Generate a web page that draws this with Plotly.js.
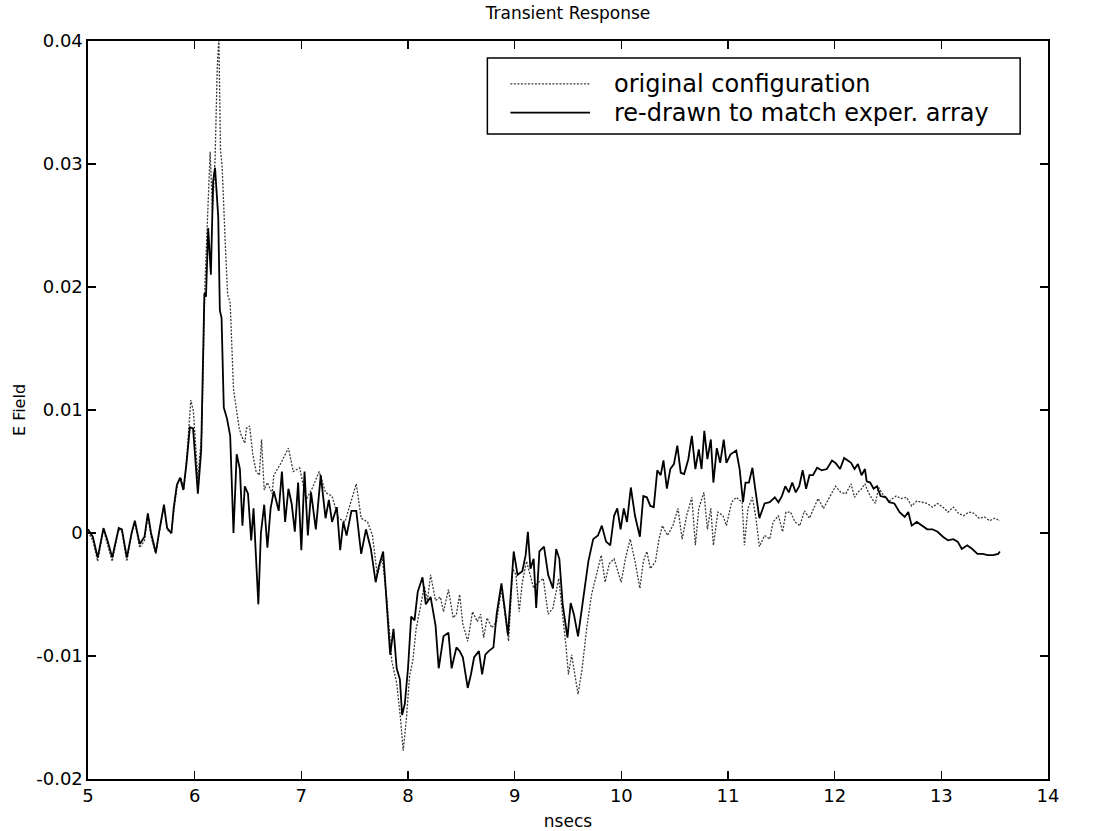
<!DOCTYPE html>
<html>
<head>
<meta charset="utf-8">
<script src="https://cdn.plot.ly/plotly-3.0.1.min.js"></script>
<style>html,body{margin:0;padding:0;background:#fff;}#chart{width:1095px;height:831px;}</style>
</head>
<body>
<div id="chart"></div>
<script>
// ---- data ----
const seriesNames = ["original configuration", "re-drawn to match exper. array"];

const xOrig = [5.000,5.045,5.091,5.145,5.182,5.227,5.288,5.318,5.364,5.409,5.439,5.485,5.530,5.561,5.591,5.636,5.667,5.712,5.742,5.782,5.812,5.842,5.873,5.900,5.930,5.964,5.988,6.030,6.067,6.097,6.121,6.145,6.167,6.191,6.212,6.227,6.242,6.258,6.288,6.309,6.333,6.364,6.394,6.418,6.439,6.470,6.485,6.515,6.545,6.576,6.606,6.627,6.652,6.682,6.727,
6.742,6.803,6.879,6.924,6.985,7.045,7.106,7.167,7.227,7.288,7.348,7.409,7.470,7.515,7.561,7.621,7.667,7.712,7.758,7.803,7.848,7.894,7.930,7.955,7.985,8.015,8.045,8.076,8.121,8.152,8.182,8.212,8.258,8.303,8.333,8.379,8.424,
8.454,8.484,8.514,8.560,8.605,8.650,8.680,8.710,8.741,8.786,8.831,8.876,8.906,8.943,8.982,9.012,9.042,9.072,9.112,9.148,9.178,9.223,9.268,9.314,9.359,9.413,9.450,9.480,9.504,9.534,9.564,9.594,9.630,9.676,9.721,9.766,9.812,9.848,9.887,9.932,9.962,9.998,10.038,10.083,10.128,10.174,
10.206,10.239,10.272,10.320,10.353,10.385,10.433,10.483,10.531,10.570,10.612,10.661,10.694,10.726,10.774,10.807,10.839,10.863,10.905,10.953,10.985,11.034,11.077,11.132,11.154,11.187,11.229,11.262,11.294,11.343,11.391,11.423,11.473,11.512,11.544,11.586,11.628,11.674,11.716,11.764,11.803,11.845,11.895,11.943,12.008,12.057,12.105,
12.154,12.186,12.218,12.252,12.284,12.316,12.349,12.381,12.413,12.447,12.479,12.511,12.543,12.576,12.625,12.674,12.722,12.770,12.820,12.868,12.917,12.965,13.015,13.063,13.112,13.160,13.209,13.258,13.306,13.355,13.404,13.453,13.501,13.549];

const yOrig = [0.0001,-0.0006,-0.0023,0.0003,-0.0009,-0.0023,0.0003,0.0001,-0.0023,-0.0001,0.0009,-0.0012,-0.0006,0.0015,-0.0003,-0.0017,0.0000,0.0022,0.0003,-0.0001,0.0023,0.0042,0.0044,0.0036,0.0067,0.0108,0.0099,0.0044,0.0082,0.0204,0.0257,0.0310,0.0262,0.0303,0.0379,0.0402,0.0312,0.0297,0.0233,0.0194,0.0187,0.0117,0.0099,0.0085,0.0079,0.0073,0.0085,0.0087,0.0064,0.0050,0.0047,0.0076,0.0035,0.0041,0.0032,
0.0047,0.0056,0.0069,0.0050,0.0053,0.0027,0.0037,0.0050,0.0033,0.0030,0.0012,0.0009,0.0027,0.0040,0.0012,0.0009,-0.0002,-0.0034,-0.0020,-0.0055,-0.0104,-0.0122,-0.0151,-0.0177,-0.0151,-0.0116,-0.0104,-0.0078,-0.0058,-0.0043,-0.0055,-0.0034,-0.0055,-0.0052,-0.0064,-0.0046,-0.0069,
-0.0066,-0.0050,-0.0074,-0.0088,-0.0064,-0.0072,-0.0066,-0.0085,-0.0069,-0.0077,-0.0072,-0.0045,-0.0064,-0.0088,-0.0029,-0.0034,-0.0064,-0.0040,-0.0023,-0.0034,-0.0045,-0.0040,-0.0037,-0.0066,-0.0061,-0.0037,-0.0064,-0.0091,-0.0115,-0.0099,-0.0115,-0.0131,-0.0112,-0.0077,-0.0050,-0.0033,-0.0018,-0.0040,-0.0025,-0.0021,-0.0029,-0.0040,-0.0021,-0.0005,-0.0023,-0.0045,
-0.0023,-0.0015,-0.0029,-0.0023,-0.0005,0.0006,-0.0002,0.0006,0.0020,-0.0005,0.0014,0.0029,-0.0010,0.0020,0.0033,0.0003,0.0020,-0.0010,0.0017,0.0014,0.0006,0.0025,0.0029,0.0025,-0.0010,0.0020,0.0029,0.0012,-0.0011,-0.0002,-0.0005,0.0009,0.0014,0.0001,0.0017,0.0017,0.0009,0.0006,0.0018,0.0012,0.0020,0.0028,0.0020,0.0028,0.0038,0.0033,0.0032,
0.0040,0.0029,0.0033,0.0036,0.0040,0.0033,0.0028,0.0024,0.0037,0.0032,0.0029,0.0026,0.0028,0.0030,0.0028,0.0029,0.0022,0.0026,0.0025,0.0024,0.0021,0.0024,0.0021,0.0017,0.0021,0.0016,0.0014,0.0017,0.0016,0.0012,0.0013,0.0010,0.0012,0.0010];

const xRedrawn = [5.000,5.045,5.091,5.145,5.182,5.227,5.288,5.318,5.364,5.409,5.439,5.485,5.530,5.561,5.591,5.636,5.667,5.712,5.742,5.782,5.803,5.833,5.864,5.894,5.924,5.955,5.985,6.030,6.061,6.091,6.106,6.127,6.152,6.173,6.191,6.206,6.221,6.236,6.252,6.273,6.303,6.333,6.364,6.394,6.424,6.448,6.470,6.500,6.530,6.552,6.576,6.597,6.621,6.652,6.682,6.712,
6.742,6.788,6.818,6.848,6.879,6.909,6.939,6.970,7.000,7.030,7.061,7.091,7.136,7.182,7.227,7.258,7.288,7.333,7.364,7.394,7.424,7.470,7.515,7.561,7.606,7.652,7.697,7.727,7.767,7.803,7.833,7.864,7.894,7.924,7.945,7.970,8.000,8.030,8.061,8.091,8.136,8.167,8.212,8.258,8.288,8.333,8.379,8.409,
8.454,8.484,8.514,8.560,8.590,8.620,8.665,8.695,8.725,8.756,8.801,8.831,8.876,8.906,8.937,8.991,9.027,9.072,9.103,9.124,9.148,9.178,9.202,9.232,9.275,9.314,9.359,9.389,9.419,9.450,9.495,9.525,9.555,9.594,9.630,9.661,9.691,9.736,9.781,9.817,9.857,9.896,9.932,9.962,9.993,10.023,10.053,10.089,10.128,10.174,
10.206,10.239,10.272,10.304,10.337,10.369,10.395,10.427,10.459,10.493,10.525,10.557,10.589,10.628,10.661,10.694,10.726,10.752,10.778,10.807,10.839,10.863,10.895,10.927,10.960,10.985,11.024,11.077,11.109,11.141,11.164,11.196,11.229,11.255,11.294,11.343,11.391,11.439,11.473,11.505,11.537,11.570,11.602,11.635,11.668,11.700,11.732,11.764,11.797,11.835,11.878,11.927,11.975,12.008,12.051,12.089,
12.122,12.154,12.186,12.218,12.252,12.284,12.300,12.333,12.365,12.397,12.430,12.479,12.511,12.560,12.608,12.657,12.690,12.722,12.770,12.820,12.868,12.917,12.965,13.015,13.063,13.112,13.153,13.192,13.242,13.290,13.339,13.387,13.436,13.485,13.533,13.549];

const yRedrawn = [0.0003,-0.0003,-0.0020,0.0004,-0.0006,-0.0020,0.0004,0.0003,-0.0020,0.0000,0.0010,-0.0009,-0.0003,0.0016,0.0000,-0.0016,0.0001,0.0023,0.0004,0.0000,0.0020,0.0039,0.0045,0.0035,0.0057,0.0086,0.0085,0.0032,0.0067,0.0195,0.0192,0.0248,0.0210,0.0286,0.0297,0.0277,0.0257,0.0181,0.0175,0.0102,0.0093,0.0079,0.0000,0.0064,0.0052,0.0006,0.0038,0.0032,-0.0006,0.0020,-0.0017,-0.0058,0.0000,0.0023,-0.0012,0.0020,
0.0034,0.0018,0.0050,0.0009,0.0036,0.0024,0.0001,0.0041,-0.0014,0.0050,-0.0002,0.0033,0.0003,0.0047,0.0012,0.0027,0.0009,0.0021,-0.0014,0.0009,-0.0002,0.0018,0.0018,-0.0017,0.0003,-0.0013,-0.0040,-0.0027,-0.0015,-0.0058,-0.0099,-0.0078,-0.0110,-0.0119,-0.0148,-0.0139,-0.0110,-0.0068,-0.0071,-0.0048,-0.0036,-0.0058,-0.0052,-0.0075,-0.0110,-0.0084,-0.0081,-0.0110,
-0.0093,-0.0096,-0.0101,-0.0126,-0.0115,-0.0101,-0.0096,-0.0115,-0.0099,-0.0096,-0.0093,-0.0066,-0.0041,-0.0061,-0.0083,-0.0015,-0.0034,-0.0031,-0.0018,0.0001,-0.0029,-0.0021,-0.0061,-0.0015,-0.0011,-0.0034,-0.0045,-0.0013,-0.0021,-0.0058,-0.0085,-0.0057,-0.0066,-0.0084,-0.0061,-0.0040,-0.0023,-0.0005,-0.0002,0.0006,-0.0007,-0.0010,0.0014,0.0020,0.0003,0.0020,0.0009,0.0037,0.0014,-0.0003,
0.0030,0.0029,0.0022,0.0021,0.0051,0.0047,0.0059,0.0036,0.0052,0.0056,0.0071,0.0049,0.0048,0.0060,0.0079,0.0052,0.0068,0.0052,0.0083,0.0060,0.0076,0.0041,0.0069,0.0057,0.0076,0.0057,0.0064,0.0067,0.0052,0.0025,0.0041,0.0041,0.0053,0.0036,0.0012,0.0024,0.0025,0.0029,0.0025,0.0030,0.0038,0.0033,0.0041,0.0033,0.0038,0.0051,0.0036,0.0047,0.0047,0.0053,0.0051,0.0052,0.0059,0.0057,0.0052,0.0061,
0.0059,0.0057,0.0052,0.0056,0.0047,0.0052,0.0042,0.0041,0.0036,0.0038,0.0030,0.0029,0.0025,0.0024,0.0017,0.0013,0.0017,0.0006,0.0009,0.0006,0.0003,0.0003,0.0001,-0.0003,-0.0006,-0.0005,-0.0007,-0.0013,-0.0010,-0.0013,-0.0017,-0.0017,-0.0018,-0.0018,-0.0017,-0.0015];

const xTicks = [5,6,7,8,9,10,11,12,13,14];
const yTicks = [-0.02,-0.01,0,0.01,0.02,0.03,0.04];
const yTickText = ["-0.02","-0.01","0","0.01","0.02","0.03","0.04"];

// ---- chart ----
const FONT = "DejaVu Sans, Arial, sans-serif";
const ORIG_LINE = {color: "#3a3a3a", width: 1.3, dash: "2px,1.5px"};
const REDRAWN_LINE = {color: "#000000", width: 1.8};

const traces = [
  {x: xOrig, y: yOrig, type: "scatter", mode: "lines", name: seriesNames[0], line: ORIG_LINE, showlegend: false},
  {x: xRedrawn, y: yRedrawn, type: "scatter", mode: "lines", name: seriesNames[1], line: REDRAWN_LINE, showlegend: false}
];

// legend box drawn in paper coordinates
const lgx0 = 0.416, lgx1 = 0.971, lgy0 = 0.874, lgy1 = 0.977;
const row1 = 0.942, row2 = 0.903;
const sx0 = 0.440, sx1 = 0.523, tx = 0.547;

const axisCommon = {
  ticks: "inside", ticklen: 8, tickwidth: 1.3, tickcolor: "#000",
  showline: true, linecolor: "#000", linewidth: 1.6, mirror: "ticks",
  showgrid: false, zeroline: false,
  tickfont: {family: FONT, size: 18, color: "#000"}
};

const layout = {
  width: 1095, height: 831,
  paper_bgcolor: "#fff", plot_bgcolor: "#fff",
  margin: {l: 88, r: 47, t: 41, b: 52},
  font: {family: FONT, color: "#000", size: 17},
  title: {text: "Transient Response", font: {family: FONT, size: 17, color: "#000"},
          x: 0.5, xref: "paper", xanchor: "center", y: 0.984, yref: "container", yanchor: "middle"},
  xaxis: Object.assign({range: [5, 14], tickvals: xTicks, ticktext: xTicks.map(String),
          title: {text: "nsecs", font: {family: FONT, size: 17, color: "#000"}, standoff: 10}}, axisCommon),
  yaxis: Object.assign({range: [-0.02, 0.04], tickvals: yTicks, ticktext: yTickText,
          title: {text: "E Field", font: {family: FONT, size: 16, color: "#000"}, standoff: 6}}, axisCommon),
  shapes: [
    {type: "rect", xref: "paper", yref: "paper", x0: lgx0, x1: lgx1, y0: lgy0, y1: lgy1,
     line: {color: "#000", width: 1.5}, fillcolor: "#fff", layer: "above"},
    {type: "line", xref: "paper", yref: "paper", x0: sx0, x1: sx1, y0: row1, y1: row1, line: ORIG_LINE, layer: "above"},
    {type: "line", xref: "paper", yref: "paper", x0: sx0, x1: sx1, y0: row2, y1: row2, line: REDRAWN_LINE, layer: "above"}
  ],
  annotations: [
    {text: seriesNames[0], xref: "paper", yref: "paper", x: tx, y: row1, xanchor: "left", yanchor: "middle",
     showarrow: false, borderpad: 0, font: {family: FONT, size: 24, color: "#000"}},
    {text: seriesNames[1], xref: "paper", yref: "paper", x: tx, y: row2, xanchor: "left", yanchor: "middle",
     showarrow: false, borderpad: 0, font: {family: FONT, size: 24, color: "#000"}}
  ],
  showlegend: false
};

Plotly.newPlot("chart", traces, layout, {displayModeBar: false, staticPlot: true});
</script>
</body>
</html>
